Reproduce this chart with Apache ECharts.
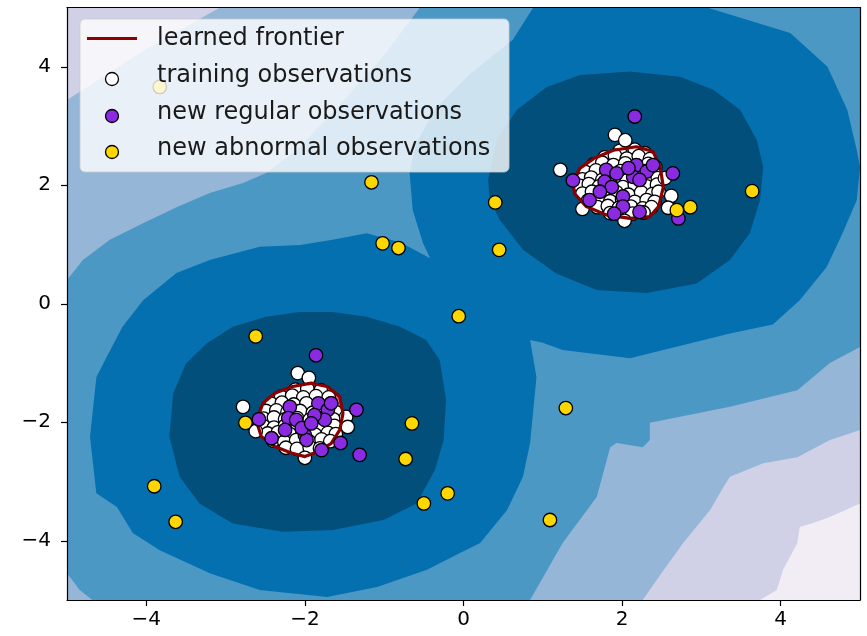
<!DOCTYPE html>
<html>
<head>
<meta charset="utf-8">
<script src="https://cdn.jsdelivr.net/npm/echarts@6/dist/echarts.min.js"></script>
<style>
  html, body { margin: 0; padding: 0; background: #ffffff; }
  #chart { width: 867px; height: 636px; }
</style>
</head>
<body>
<div id="chart"></div>
<script>
// Axis ticks
const xTicks = [-4, -2, 0, 2, 4];
const yTicks = [-4, -2, 0, 2, 4];

// Decision-function level regions (outer boundary of each superlevel set), data coords
const levelB = [[-5, 5], [5, 5], [5, -3.37], [4.62, -3.60], [4.41, -3.70], [4.24, -3.77], [4.21, -4.04],
  [4.03, -4.49], [3.95, -4.83], [3.74, -5], [-5, -5]];
const levelC = [[-3.07, 5], [5, 5], [5, -2.13], [4.62, -2.30], [4.21, -2.59], [3.78, -2.69], [3.36, -2.92],
  [3.28, -3.09], [3.11, -3.48], [2.77, -4.04], [2.52, -4.5], [2.26, -5], [-5, -5], [-5, 3.44], [-4.0, 4.3]];
const levelD = [[-0.55, 5], [5, 5], [5, -0.73], [4.62, -1.0], [4.21, -1.46], [3.36, -1.74], [2.35, -2.01],
  [2.35, -2.30], [2.26, -2.42], [1.93, -2.35], [1.85, -2.42], [1.68, -3.26], [1.25, -4.04], [0.84, -5],
  [-4.68, -5], [-4.84, -4.83], [-5, -4.55], [-5, 0.40], [-4.80, 0.74], [-4.46, 1.08], [-4.04, 1.36],
  [-3.62, 1.63], [-3.2, 1.87], [-2.78, 2.04], [-2.48, 2.21], [-2.1, 2.6], [-1.6, 3.3], [-1.0, 4.2]];
const levelE = [[0.88, 5], [3.07, 5], [4.12, 4.57], [4.59, 4.0], [4.84, 3.27], [4.96, 2.59], [5.0, 2.31],
  [4.96, 1.75], [4.78, 1.19], [4.58, 0.62], [4.24, 0.06], [3.9, -0.35], [3.36, -0.50], [2.10, -0.92],
  [1.25, -0.78], [1.0, -0.66], [0.84, -0.61], [0.92, -1.24], [0.84, -2.35], [0.75, -2.92], [0.55, -3.48],
  [0.21, -4.04], [-0.05, -4.21], [-0.46, -4.49], [-1.09, -4.78], [-1.72, -4.95], [-2.57, -4.83],
  [-3.20, -4.55], [-3.83, -4.16], [-4.17, -3.87], [-4.37, -3.43], [-4.63, -3.20], [-4.71, -2.25],
  [-4.63, -1.24], [-4.50, -0.90], [-4.30, -0.39], [-4.04, 0.06], [-3.62, 0.52], [-3.20, 0.74],
  [-2.57, 0.96], [-2.06, 0.99], [-1.65, 1.08], [-1.22, 1.19], [-0.80, 1.04], [-0.42, 0.77],
  [-0.51, 1.02], [-0.64, 1.58], [-0.68, 2.21], [-0.6, 2.7], [-0.35, 3.3], [0.1, 3.9], [0.62, 4.45]];
const levelFUpper = [[0.31, 2.09], [0.42, 2.76], [0.67, 3.27], [1.05, 3.66], [1.47, 3.86], [2.10, 3.92],
  [2.73, 3.83], [3.15, 3.61], [3.49, 3.27], [3.70, 2.76], [3.78, 2.31], [3.74, 1.75], [3.61, 1.19],
  [3.36, 0.74], [2.94, 0.34], [2.31, 0.18], [1.68, 0.23], [1.17, 0.51], [0.75, 0.91], [0.46, 1.41], [0.33, 1.75]];
const levelFLower = [[-3.71, -2.24], [-3.66, -1.51], [-3.50, -1.01], [-3.24, -0.67], [-2.91, -0.39],
  [-2.49, -0.22], [-2.07, -0.14], [-1.65, -0.14], [-1.22, -0.22], [-0.80, -0.39], [-0.47, -0.61],
  [-0.30, -0.95], [-0.22, -1.62], [-0.25, -2.30], [-0.36, -2.80], [-0.59, -3.37], [-1.01, -3.65],
  [-1.65, -3.82], [-2.28, -3.85], [-2.91, -3.71], [-3.33, -3.37], [-3.58, -2.92]];

// Learned frontier (zero level)
const frontierUpper = [[1.38, 2.06], [1.47, 2.29], [1.64, 2.45], [1.89, 2.59], [2.18, 2.65], [2.39, 2.57],
  [2.48, 2.31], [2.52, 1.97], [2.46, 1.64], [2.35, 1.47], [2.10, 1.44], [1.80, 1.50], [1.55, 1.64], [1.40, 1.86]];
const frontierLower = [[-2.59, -1.91], [-2.53, -1.68], [-2.38, -1.51], [-2.17, -1.40], [-1.92, -1.34],
  [-1.71, -1.40], [-1.56, -1.57], [-1.52, -1.85], [-1.56, -2.13], [-1.67, -2.36], [-1.88, -2.52],
  [-2.00, -2.58], [-2.17, -2.52], [-2.38, -2.41], [-2.55, -2.24], [-2.59, -2.07]];

// Observations
const trainingObs = [
  // cluster around (2, 2)
  [1.97, 2.58], [2.16, 2.60], [2.29, 2.54],
  [1.78, 2.47], [1.91, 2.50], [2.06, 2.45], [2.21, 2.49], [2.35, 2.44],
  [1.64, 2.35], [1.75, 2.38], [1.89, 2.34], [2.04, 2.37], [2.19, 2.33], [2.33, 2.36], [2.42, 2.31],
  [1.54, 2.22], [1.67, 2.25], [1.81, 2.21], [1.98, 2.24], [2.12, 2.20], [2.29, 2.24], [2.41, 2.19],
  [1.50, 2.10], [1.61, 2.13], [1.75, 2.09], [1.90, 2.12], [2.06, 2.08], [2.21, 2.12], [2.36, 2.09], [2.45, 2.12],
  [1.47, 1.99], [1.58, 2.02], [1.71, 1.98], [1.86, 2.01], [2.01, 1.97], [2.16, 2.01], [2.31, 1.98], [2.44, 2.01],
  [1.50, 1.86], [1.62, 1.89], [1.77, 1.85], [1.93, 1.88], [2.08, 1.84], [2.24, 1.88], [2.38, 1.85], [2.46, 1.89],
  [1.57, 1.74], [1.70, 1.77], [1.85, 1.73], [2.00, 1.76], [2.16, 1.72], [2.31, 1.75], [2.41, 1.72],
  [1.69, 1.63], [1.82, 1.65], [1.96, 1.62], [2.11, 1.64], [2.26, 1.61], [2.37, 1.63],
  [1.85, 1.53], [1.98, 1.55], [2.13, 1.52], [2.27, 1.54],
  [1.22, 2.26], [1.91, 2.85], [2.04, 2.76], [2.54, 2.12], [2.62, 1.82], [2.03, 1.40], [2.58, 1.62], [1.50, 1.60],
  // cluster around (-2, -2)
  [-2.12, -1.45], [-1.97, -1.43], [-1.80, -1.46],
  [-2.30, -1.57], [-2.16, -1.55], [-2.02, -1.58], [-1.86, -1.56], [-1.70, -1.58],
  [-2.42, -1.69], [-2.29, -1.67], [-2.14, -1.70], [-1.98, -1.68], [-1.82, -1.71], [-1.67, -1.68],
  [-2.49, -1.81], [-2.36, -1.80], [-2.22, -1.83], [-2.06, -1.81], [-1.90, -1.84], [-1.74, -1.81], [-1.61, -1.83],
  [-2.52, -1.94], [-2.39, -1.92], [-2.25, -1.95], [-2.10, -1.93], [-1.94, -1.96], [-1.78, -1.93], [-1.64, -1.95],
  [-2.52, -2.07], [-2.39, -2.09], [-2.25, -2.06], [-2.09, -2.08], [-1.93, -2.05], [-1.77, -2.08], [-1.63, -2.06],
  [-2.47, -2.19], [-2.34, -2.17], [-2.19, -2.20], [-2.03, -2.18], [-1.87, -2.21], [-1.71, -2.18], [-1.61, -2.20],
  [-2.40, -2.31], [-2.26, -2.33], [-2.11, -2.30], [-1.95, -2.32], [-1.79, -2.29], [-1.68, -2.32],
  [-2.24, -2.43], [-2.10, -2.45], [-1.94, -2.42], [-1.81, -2.44],
  [-2.09, -1.17], [-2.78, -1.74], [-1.48, -1.91], [-2.00, -2.60], [-1.95, -1.25], [-2.62, -2.15], [-1.46, -2.08]
];
const regularObs = [
  [2.16, 3.16], [2.64, 2.20], [2.71, 1.44], [1.38, 2.08], [1.80, 2.26], [1.93, 2.20], [2.18, 2.34], [2.31, 2.23],
  [1.78, 2.06], [1.87, 1.97], [2.01, 1.81], [2.14, 2.14], [2.22, 2.09], [1.59, 1.75], [2.01, 1.64], [2.22, 1.55],
  [1.72, 1.89], [2.39, 2.34], [2.08, 2.29], [1.90, 1.52],
  [-1.86, -0.87], [-1.31, -2.55], [-1.35, -1.79], [-2.58, -1.95], [-2.19, -1.74], [-2.21, -1.93], [-2.11, -1.96],
  [-1.83, -1.68], [-1.71, -1.79], [-1.75, -1.96], [-1.88, -1.88], [-2.25, -2.13], [-2.00, -2.22], [-1.98, -2.30],
  [-1.79, -2.47], [-2.42, -2.27], [-1.67, -1.68], [-2.04, -2.10], [-1.92, -2.02], [-1.55, -2.35]
];
const abnormalObs = [
  [-3.83, 3.66], [-1.16, 2.05], [-1.02, 1.02], [-0.82, 0.94], [0.40, 1.71], [0.45, 0.91], [-0.06, -0.21],
  [-2.62, -0.55], [-2.75, -2.01], [-0.65, -2.02], [-0.73, -2.62], [-3.90, -3.08], [-3.63, -3.68], [-0.50, -3.37],
  [-0.20, -3.20], [1.09, -3.65], [1.29, -1.76], [3.64, 1.90], [2.69, 1.58], [2.86, 1.63]
];

const FONT = 'DejaVu Sans';
const fmt = v => (v < 0 ? '\u2212' + Math.abs(v) : String(v));

// Filled (and optionally outlined) closed region through the cartesian scales
function region(name, pts, fill, stroke, z) {
  return {
    type: 'custom',
    name: name,
    coordinateSystem: 'cartesian2d',
    data: [[0, 0]],
    clip: true,
    silent: true,
    z: z || 1,
    renderItem: function (params, api) {
      return {
        type: 'polygon',
        z2: 10,
        shape: { points: pts.map(p => api.coord(p)) },
        style: stroke
          ? { fill: fill, stroke: stroke, lineWidth: 3.2, lineJoin: 'round' }
          : { fill: fill }
      };
    }
  };
}

function points(name, data, color, z) {
  return {
    type: 'scatter',
    name: name,
    data: data,
    symbol: 'circle',
    symbolSize: 13.5,
    z: z,
    itemStyle: { color: color, borderColor: '#000000', borderWidth: 1.3, opacity: 1 },
    emphasis: { disabled: true }
  };
}

const frameAxis = (pos) => ({
  type: 'value', min: -5, max: 5, position: pos, z: 10,
  axisLine: { show: true, onZero: false, lineStyle: { color: '#000000', width: 1.2 } },
  axisTick: { show: false }, axisLabel: { show: false }, splitLine: { show: false }
});

// Legend box, drawn above the plot
const LZ = 100;
const legendText = (label, y) => ({
  type: 'text', x: 157, y: y, z: LZ + 1,
  style: { text: label, fontSize: 24, fontFamily: FONT, fill: '#1a1a1a', verticalAlign: 'middle' }
});
const legendDot = (y, color) => ({
  type: 'circle', z: LZ + 1, shape: { cx: 112, cy: y, r: 6.5 },
  style: { fill: color, stroke: '#000000', lineWidth: 1.3 }
});

const chart = echarts.init(document.getElementById('chart'), null, { renderer: 'canvas' });
chart.setOption({
  animation: false,
  grid: { left: 67, right: 7, top: 7.5, bottom: 36, show: true, backgroundColor: '#f2ecf5', borderWidth: 0 },
  xAxis: [
    {
      type: 'value', min: -5, max: 5, position: 'bottom', z: 10,
      axisLine: { show: true, onZero: false, lineStyle: { color: '#000000', width: 1.2 } },
      axisTick: { show: true, length: 6, customValues: xTicks, lineStyle: { color: '#000000', width: 1.2 } },
      axisLabel: { customValues: xTicks, formatter: fmt, fontSize: 20, fontFamily: FONT, color: '#000000', margin: 10 },
      splitLine: { show: false }
    },
    frameAxis('top')
  ],
  yAxis: [
    {
      type: 'value', min: -5, max: 5, position: 'left', z: 10,
      axisLine: { show: true, onZero: false, lineStyle: { color: '#000000', width: 1.2 } },
      axisTick: { show: true, length: 6, customValues: yTicks, lineStyle: { color: '#000000', width: 1.2 } },
      axisLabel: { customValues: yTicks, formatter: fmt, fontSize: 20, fontFamily: FONT, color: '#000000', margin: 16 },
      splitLine: { show: false }
    },
    frameAxis('right')
  ],
  series: [
    region('level-b', levelB, '#d0d1e6'),
    region('level-c', levelC, '#95b6d7'),
    region('level-d', levelD, '#4b98c5'),
    region('level-e', levelE, '#0570b0'),
    region('level-f-upper', levelFUpper, '#034f7b'),
    region('level-f-lower', levelFLower, '#034f7b'),
    region('inlier-upper', frontierUpper, '#db7093'),
    region('inlier-lower', frontierLower, '#db7093'),
    points('training observations', trainingObs, '#ffffff', 3),
    region('learned frontier', frontierUpper, 'none', '#8b0000', 4),
    region('learned frontier', frontierLower, 'none', '#8b0000', 4),
    points('new regular observations', regularObs, '#8a2be2', 5),
    points('new abnormal observations', abnormalObs, '#ffd700', 5)
  ],
  graphic: [
    { type: 'rect', z: LZ, silent: true, shape: { x: 80, y: 19, width: 429, height: 153, r: 5 },
      style: { fill: 'rgba(255,255,255,0.8)', stroke: 'rgba(204,204,204,0.8)', lineWidth: 1 } },
    { type: 'line', z: LZ + 1, silent: true, shape: { x1: 87, y1: 38.5, x2: 137, y2: 38.5 },
      style: { stroke: '#8b0000', lineWidth: 3 } },
    legendDot(79, '#ffffff'),
    legendDot(116, '#8a2be2'),
    legendDot(152, '#ffd700'),
    legendText('learned frontier', 38.5),
    legendText('training observations', 75.5),
    legendText('new regular observations', 112.5),
    legendText('new abnormal observations', 149)
  ]
});
</script>
</body>
</html>
